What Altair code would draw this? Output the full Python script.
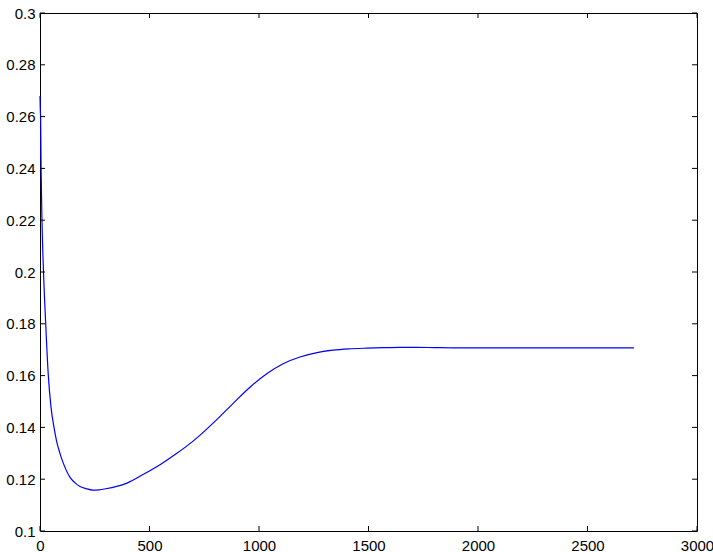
import altair as alt
import pandas as pd

# Objective value per iteration
iters = [0, 1, 3, 5, 9, 16, 26, 38, 50, 64, 75, 91, 105, 119, 137, 160, 183, 212, 242, 270,
         300, 350, 397, 470, 548, 620, 699, 731, 800, 881, 960, 1037, 1110, 1187, 1260, 1338,
         1410, 1493, 1570, 1644, 1720, 1800, 1900, 2000, 2200, 2400, 2600, 2712]
values = [0.268, 0.264, 0.258, 0.240, 0.220, 0.200, 0.180, 0.160, 0.148, 0.140, 0.135, 0.130,
          0.1265, 0.1236, 0.1207, 0.1186, 0.1172, 0.1163, 0.1158, 0.1159,
          0.1163, 0.1172, 0.1185, 0.1218, 0.1256, 0.1297, 0.1347, 0.1370, 0.1424, 0.1492,
          0.1556, 0.1608, 0.1646, 0.1672, 0.1688, 0.1698,
          0.1703, 0.1706, 0.1708, 0.1709, 0.1709, 0.1708, 0.1707, 0.1707, 0.1707, 0.1707,
          0.1707, 0.1707]

x_ticks = [0, 500, 1000, 1500, 2000, 2500, 3000]
y_ticks = [0.1, 0.12, 0.14, 0.16, 0.18, 0.2, 0.22, 0.24, 0.26, 0.28, 0.3]

W, H = 657, 518
TICK = 5
FONT = "Liberation Sans"

df = pd.DataFrame({"iter": iters, "value": values})
xt = pd.DataFrame({"iter": x_ticks})
yt = pd.DataFrame({"value": y_ticks})

x_scale = alt.Scale(domain=[0, 3000], nice=False, zero=False)
y_scale = alt.Scale(domain=[0.1, 0.3], nice=False, zero=False)

x_axis = alt.Axis(values=x_ticks, format="d", title=None, ticks=False, tickSize=0,
                  domain=False, grid=False, labelPadding=7, labelFlush=False)
y_axis = alt.Axis(values=y_ticks, format=".2~f", title=None, ticks=False, tickSize=0,
                  domain=False, grid=False, labelPadding=5, labelFlush=False)

line = alt.Chart(df).mark_line(
    color="#0000ff", strokeWidth=1.2, interpolate="monotone"
).encode(
    x=alt.X("iter:Q", scale=x_scale, axis=x_axis),
    y=alt.Y("value:Q", scale=y_scale, axis=y_axis),
)

# Inward tick marks on all four sides of the box
left_ticks = alt.Chart(yt).mark_rule(color="black", strokeWidth=1).encode(
    y=alt.Y("value:Q", scale=y_scale, axis=y_axis), x=alt.value(0), x2=alt.value(TICK))
right_ticks = alt.Chart(yt).mark_rule(color="black", strokeWidth=1).encode(
    y=alt.Y("value:Q", scale=y_scale, axis=y_axis), x=alt.value(W - TICK), x2=alt.value(W))
bottom_ticks = alt.Chart(xt).mark_rule(color="black", strokeWidth=1).encode(
    x=alt.X("iter:Q", scale=x_scale, axis=x_axis), y=alt.value(H - TICK), y2=alt.value(H))
top_ticks = alt.Chart(xt).mark_rule(color="black", strokeWidth=1).encode(
    x=alt.X("iter:Q", scale=x_scale, axis=x_axis), y=alt.value(0), y2=alt.value(TICK))

chart = alt.layer(line, left_ticks, right_ticks, bottom_ticks, top_ticks).properties(
    width=W, height=H,
    autosize=alt.AutoSizeParams(type="none"),
    padding={"left": 40, "top": 13, "right": 16, "bottom": 21},
    background="white",
).configure_view(
    stroke="black", strokeWidth=1
).configure_axis(
    labelFont=FONT, labelFontSize=15, labelColor="black"
)

chart.save("out.html", embed_options={"renderer": "svg", "actions": False})
